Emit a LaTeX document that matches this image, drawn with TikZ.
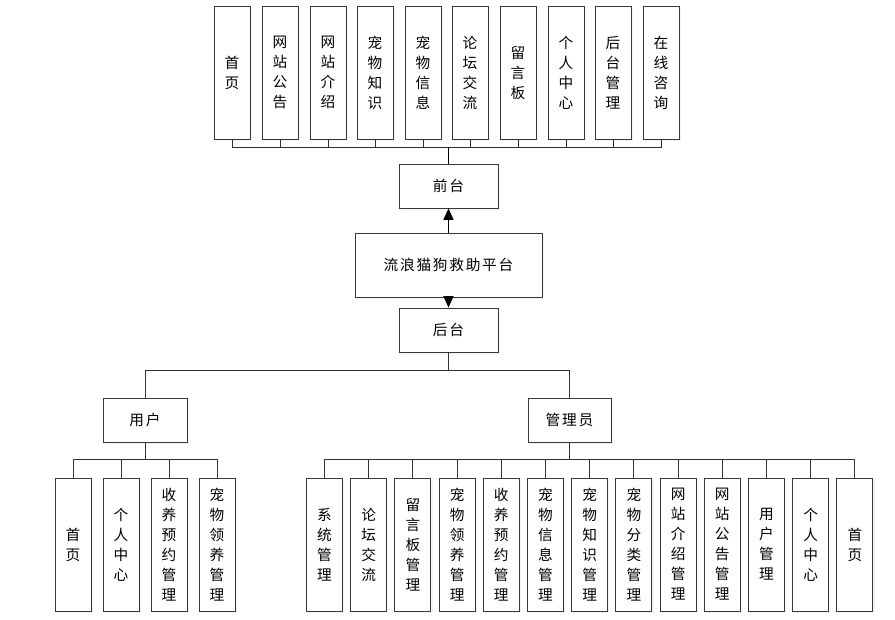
\documentclass[tikz,border=0pt]{standalone}
\usepackage{fontspec}
\setmainfont{Noto Sans CJK SC}
\newfontfamily\widecjk[LetterSpace=12]{Noto Sans CJK SC}
\usepackage{tikz}
\usetikzlibrary{arrows.meta,shadows}

\begin{document}
\begin{tikzpicture}[x=0.75pt, y=-0.75pt, semithick,
  box/.style={draw=black!78, fill=white, inner sep=0pt, line width=0.65pt,
    drop shadow={opacity=0.1, shadow xshift=1.2pt, shadow yshift=-1.2pt},
    font=\widecjk\fontsize{11}{15}\selectfont},
  vbox/.style={box, minimum width=27pt, minimum height=99.75pt, align=center,
    font=\fontsize{11}{15}\selectfont},
  link/.style={draw=black!80, line width=0.7pt},
  tip/.style={link, draw=black, line width=0.9pt, -{Triangle[length=8.5pt,width=7.5pt]}}]
  \useasboundingbox (0,0) rectangle (895,620);

  % front end
  \node [vbox] (f1)  at (232,72.5) {首\\页};
  \node [vbox] (f2)  at (280,72.5) {网\\站\\公\\告};
  \node [vbox] (f3)  at (328,72.5) {网\\站\\介\\绍};
  \node [vbox] (f4)  at (375,72.5) {宠\\物\\知\\识};
  \node [vbox] (f5)  at (423,72.5) {宠\\物\\信\\息};
  \node [vbox] (f6)  at (470,72.5) {论\\坛\\交\\流};
  \node [vbox] (f7)  at (518,72.5) {留\\言\\板};
  \node [vbox] (f8)  at (566,72.5) {个\\人\\中\\心};
  \node [vbox] (f9)  at (613,72.5) {后\\台\\管\\理};
  \node [vbox] (f10) at (661,72.5) {在\\线\\咨\\询};
  \node [box, minimum width=74.25pt, minimum height=33pt] (qt) at (448.5,186) {前台};
  \coordinate (qbus) at (448.5,147);
  \path [link] (f1.south) |- (qbus);
  \path [link] (f2.south) |- (qbus);
  \path [link] (f3.south) |- (qbus);
  \path [link] (f4.south) |- (qbus);
  \path [link] (f5.south) |- (qbus);
  \path [link] (f6.south) |- (qbus);
  \path [link] (f7.south) |- (qbus);
  \path [link] (f8.south) |- (qbus);
  \path [link] (f9.south) |- (qbus);
  \path [link] (f10.south) |- (qbus);
  \path [link, line width=1.4pt, draw=black] (qbus) -- (qt.north);

  % platform
  \node [box, minimum width=140.25pt, minimum height=48pt] (pt) at (448.5,265) {流浪猫狗救助平台};
  \node [box, minimum width=74.25pt, minimum height=33pt] (ht) at (448.5,330) {后台};
  \path [tip] (pt.north) -- (qt.south);
  \path [tip] (pt.south) -- (ht.north);

  % back end
  \node [box, minimum width=63pt, minimum height=33pt] (user)  at (145,420) {用户};
  \node [box, minimum width=62.25pt, minimum height=33pt] (admin) at (569.5,420) {管理员};
  \coordinate (hbus) at (448.5,370);
  \path [link] (ht.south) -- (hbus);
  \path [link] (hbus) -| (user.north);
  \path [link] (hbus) -| (admin.north);

  % user
  \node [vbox] (u1) at (73,544.5)  {首\\页};
  \node [vbox] (u2) at (121,544.5) {个\\人\\中\\心};
  \node [vbox] (u3) at (169,544.5) {收\\养\\预\\约\\管\\理};
  \node [vbox] (u4) at (217,544.5) {宠\\物\\领\\养\\管\\理};
  \coordinate (ubus) at (145,459);
  \path [link] (user.south) -- (ubus);
  \path [link] (ubus) -| (u1.north);
  \path [link] (ubus) -| (u2.north);
  \path [link] (ubus) -| (u3.north);
  \path [link] (ubus) -| (u4.north);

  % admin
  \node [vbox] (a1)  at (324.5,544.5) {系\\统\\管\\理};
  \node [vbox] (a2)  at (368.7,544.5) {论\\坛\\交\\流};
  \node [vbox] (a3)  at (412.9,544.5) {留\\言\\板\\管\\理};
  \node [vbox] (a4)  at (457.1,544.5) {宠\\物\\领\\养\\管\\理};
  \node [vbox] (a5)  at (501.3,544.5) {收\\养\\预\\约\\管\\理};
  \node [vbox] (a6)  at (545.5,544.5) {宠\\物\\信\\息\\管\\理};
  \node [vbox] (a7)  at (589.7,544.5) {宠\\物\\知\\识\\管\\理};
  \node [vbox] (a8)  at (633.9,544.5) {宠\\物\\分\\类\\管\\理};
  \node [vbox] (a9)  at (678.1,544.5) {网\\站\\介\\绍\\管\\理};
  \node [vbox] (a10) at (722.3,544.5) {网\\站\\公\\告\\管\\理};
  \node [vbox] (a11) at (766.5,544.5) {用\\户\\管\\理};
  \node [vbox] (a12) at (810.7,544.5) {个\\人\\中\\心};
  \node [vbox] (a13) at (854.9,544.5) {首\\页};
  \coordinate (abus) at (569.5,459);
  \path [link] (admin.south) -- (abus);
  \path [link] (abus) -| (a1.north);
  \path [link] (abus) -| (a2.north);
  \path [link] (abus) -| (a3.north);
  \path [link] (abus) -| (a4.north);
  \path [link] (abus) -| (a5.north);
  \path [link] (abus) -| (a6.north);
  \path [link] (abus) -| (a7.north);
  \path [link] (abus) -| (a8.north);
  \path [link] (abus) -| (a9.north);
  \path [link] (abus) -| (a10.north);
  \path [link] (abus) -| (a11.north);
  \path [link] (abus) -| (a12.north);
  \path [link] (abus) -| (a13.north);
\end{tikzpicture}
\end{document}
